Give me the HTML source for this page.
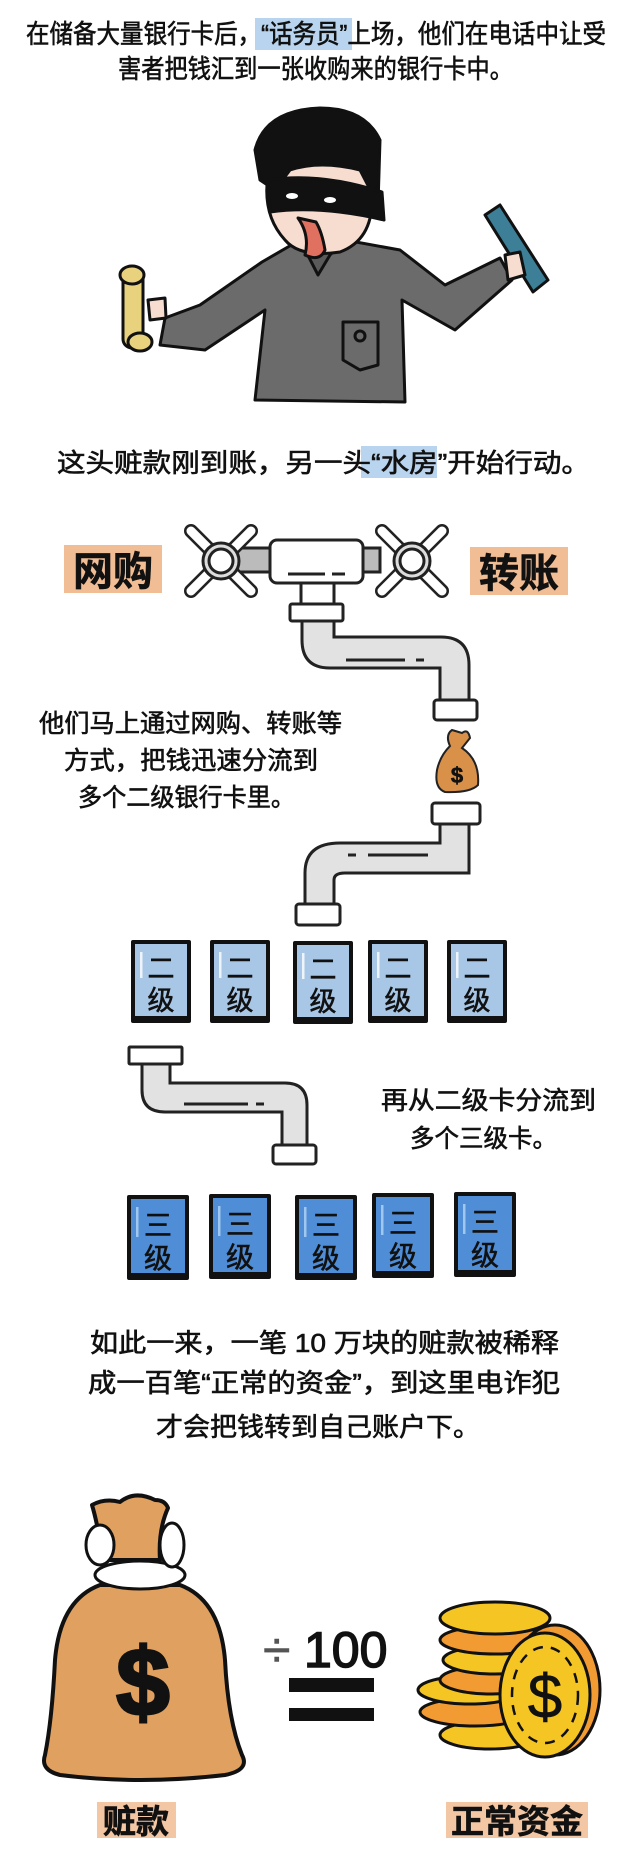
<!DOCTYPE html>
<html><head><meta charset="utf-8"><style>
html,body{margin:0;padding:0;background:#fff;}
svg{display:block;}
text{font-family:"Liberation Sans","Noto Sans CJK SC",sans-serif;fill:#111;stroke:#111;stroke-width:0.6;}
</style></head><body>
<svg width="640" height="1876" viewBox="0 0 640 1876" xmlns="http://www.w3.org/2000/svg">
<defs>
<g id="card2"><rect x="0" y="0" width="60" height="83" fill="#111" rx="2"/><rect x="4" y="4" width="52" height="72" fill="#a8c7e6"/><rect x="9" y="12" width="2.5" height="26" fill="#fff" opacity="0.8"/><text x="30" y="38" font-size="27" text-anchor="middle">二</text><text x="30" y="70" font-size="27" text-anchor="middle">级</text></g>
<g id="card3"><rect x="0" y="0" width="62" height="85" fill="#111" rx="2"/><rect x="4" y="4" width="54" height="74" fill="#4f8ed6"/><rect x="9" y="12" width="2.5" height="30" fill="#a9cdf2" opacity="0.9"/><text x="31" y="40" font-size="28" text-anchor="middle">三</text><text x="31" y="73" font-size="28" text-anchor="middle">级</text></g>
<g id="cross"><g stroke="#222" stroke-width="14" stroke-linecap="round"><line x1="-30" y1="-30" x2="30" y2="30"/><line x1="30" y1="-30" x2="-30" y2="30"/></g><g stroke="#fff" stroke-width="9" stroke-linecap="round"><line x1="-30" y1="-30" x2="30" y2="30"/><line x1="30" y1="-30" x2="-30" y2="30"/></g><circle r="18" fill="#ddd" stroke="#222" stroke-width="3"/><circle r="12" fill="#fff" stroke="#222" stroke-width="3"/></g>
</defs>

<!-- top text -->
<rect x="255" y="18" width="97" height="32" fill="#b8d4ee"/>
<text x="26" y="43" font-size="26" textLength="580" lengthAdjust="spacingAndGlyphs">在储备大量银行卡后，“话务员”上场，他们在电话中让受</text>
<text x="118" y="78" font-size="26" textLength="395" lengthAdjust="spacingAndGlyphs">害者把钱汇到一张收购来的银行卡中。</text>

<!-- robber -->
<g stroke="#111" stroke-width="3" stroke-linejoin="round">
<path d="M262 262 L200 305 L165 318 L160 345 L205 350 L265 310 L255 400 L405 402 L402 300 L455 330 L512 280 L500 258 L445 285 L400 250 L345 240 L300 240 Z" fill="#6b6b6b"/>
<path d="M300 240 L318 275 L330 255 L345 240 Z" fill="#5a5a5a"/>
<path d="M343 360 L343 322 L378 322 L378 365 L360 370 Z" fill="#6b6b6b"/>
<circle cx="360" cy="336" r="5" fill="#6b6b6b"/>
<rect x="123" y="268" width="20" height="80" rx="9" fill="#e9d27e"/>
<ellipse cx="132" cy="275" rx="12" ry="9" fill="#e9d27e"/>
<ellipse cx="140" cy="342" rx="12" ry="9" fill="#e9d27e"/>
<path d="M148 300 L165 298 L166 318 L150 320 Z" fill="#f7dcd0"/>
<path d="M485 215 L500 205 L548 280 L533 292 Z" fill="#3c7f96"/>
<path d="M505 255 L520 252 L525 275 L508 280 Z" fill="#f7dcd0"/>
<path d="M268 175 Q262 150 290 135 Q330 118 360 140 Q380 160 372 200 Q372 240 340 252 Q300 258 285 240 Q262 215 268 175 Z" fill="#f7dcd0"/>
<path d="M255 150 Q265 110 320 108 Q365 108 380 140 L378 205 L360 170 Q320 160 290 170 L275 190 L260 180 Z" fill="#111"/>
<path d="M268 180 Q320 172 382 192 L384 220 Q320 205 270 212 Z" fill="#111"/>
<path d="M298 218 Q310 235 305 255 Q320 262 325 250 Q322 232 316 222 Z" fill="#e0705f"/>
</g>
<ellipse cx="292" cy="196" rx="6" ry="3" fill="#fff"/><ellipse cx="330" cy="200" rx="6" ry="3" fill="#fff"/>

<!-- line 3 -->
<rect x="361" y="446" width="76" height="32" fill="#b8d4ee"/>
<text x="57" y="472" font-size="26" textLength="533" lengthAdjust="spacingAndGlyphs">这头赃款刚到账，另一头“水房”开始行动。</text>

<!-- faucet row -->
<rect x="64" y="545" width="98" height="48" fill="#f1bd95"/>
<text x="113" y="585" font-size="40" font-weight="bold" text-anchor="middle">网购</text>
<rect x="470" y="547" width="98" height="48" fill="#f1bd95"/>
<text x="519" y="587" font-size="40" font-weight="bold" text-anchor="middle">转账</text>
<rect x="230" y="548" width="150" height="24" fill="#bbb" stroke="#222" stroke-width="3"/>
<use href="#cross" x="221" y="561"/>
<use href="#cross" x="412" y="561"/>
<rect x="270" y="540" width="93" height="43" rx="7" fill="#fff" stroke="#222" stroke-width="3"/>
<line x1="288" y1="574" x2="325" y2="574" stroke="#222" stroke-width="3"/><line x1="332" y1="574" x2="345" y2="574" stroke="#222" stroke-width="3"/>
<rect x="301" y="583" width="33" height="22" fill="#fff" stroke="#222" stroke-width="3"/>

<g fill="#e2e2e2" stroke="#222" stroke-width="3">
<path d="M302 620 L302 640 Q302 668 330 668 L440 668 L440 702 L469 702 L469 665 Q469 637 441 637 L334 637 L334 620 Z"/>
<path d="M440 822 L440 843 L340 843 Q305 843 305 873 L305 906 L334 906 L334 880 Q334 873 345 873 L469 873 L469 822 Z"/>
<path d="M142 1062 L142 1090 Q142 1112 165 1112 L282 1112 L282 1147 L307 1147 L307 1105 Q307 1083 285 1083 L170 1083 L170 1062 Z"/>
</g>
<g fill="#fff" stroke="#222" stroke-width="3">
<rect x="290" y="604" width="53" height="17" rx="2"/>
<rect x="434" y="700" width="43" height="20" rx="3"/>
<rect x="432" y="803" width="48" height="21" rx="3"/>
<rect x="296" y="904" width="44" height="21" rx="3"/>
<rect x="129" y="1047" width="53" height="17" rx="1"/>
<rect x="273" y="1145" width="43" height="19" rx="3"/>
</g>
<g stroke="#222" stroke-width="3"><line x1="346" y1="660" x2="405" y2="660"/><line x1="416" y1="660" x2="424" y2="660"/><line x1="348" y1="855" x2="356" y2="855"/><line x1="368" y1="855" x2="428" y2="855"/><line x1="184" y1="1104" x2="248" y2="1104"/><line x1="256" y1="1104" x2="264" y2="1104"/></g>

<!-- small bag -->
<path d="M450 746 Q445 735 452 730 L462 733 Q468 728 470 738 L462 748 Q480 760 478 785 Q470 793 445 792 Q434 788 437 770 Q440 756 450 746 Z" fill="#d9914a" stroke="#222" stroke-width="2"/>
<text x="457" y="783" font-size="22" font-weight="bold" text-anchor="middle">$</text>

<text x="39" y="732" font-size="25" textLength="303" lengthAdjust="spacingAndGlyphs">他们马上通过网购、转账等</text>
<text x="64" y="769" font-size="25" textLength="254" lengthAdjust="spacingAndGlyphs">方式，把钱迅速分流到</text>
<text x="78" y="806" font-size="25" textLength="217" lengthAdjust="spacingAndGlyphs">多个二级银行卡里。</text>

<use href="#card2" x="131" y="940"/>
<use href="#card2" x="210" y="940"/>
<use href="#card2" x="293" y="941"/>
<use href="#card2" x="368" y="940"/>
<use href="#card2" x="447" y="940"/>

<text x="381" y="1109" font-size="25" textLength="215" lengthAdjust="spacingAndGlyphs">再从二级卡分流到</text>
<text x="410" y="1147" font-size="25" textLength="147" lengthAdjust="spacingAndGlyphs">多个三级卡。</text>

<use href="#card3" x="127" y="1195"/>
<use href="#card3" x="209" y="1194"/>
<use href="#card3" x="295" y="1195"/>
<use href="#card3" x="372" y="1193"/>
<use href="#card3" x="454" y="1192"/>

<text x="90" y="1352" font-size="26" textLength="469" lengthAdjust="spacingAndGlyphs">如此一来，一笔 10 万块的赃款被稀释</text>
<text x="88" y="1392" font-size="26" textLength="472" lengthAdjust="spacingAndGlyphs">成一百笔“正常的资金”，到这里电诈犯</text>
<text x="156" y="1436" font-size="26" textLength="324" lengthAdjust="spacingAndGlyphs">才会把钱转到自己账户下。</text>

<!-- big bag -->
<g stroke="#111" stroke-width="4" stroke-linejoin="round">
<path d="M103 1560 Q98 1525 92 1505 Q105 1498 120 1502 Q135 1490 155 1500 Q165 1500 168 1508 Q158 1530 160 1560 Z" fill="#e0a060"/>
<path d="M100 1585 Q60 1600 55 1660 Q52 1720 45 1755 Q40 1770 60 1775 Q140 1785 225 1775 Q250 1770 242 1755 Q228 1720 225 1660 Q220 1600 180 1585 Z" fill="#e0a060"/>
<ellipse cx="140" cy="1575" rx="45" ry="14" fill="#fff" stroke-width="3"/>
<ellipse cx="100" cy="1545" rx="14" ry="20" fill="#fff" stroke-width="3"/>
<ellipse cx="172" cy="1545" rx="12" ry="22" fill="#fff" stroke-width="3"/>
</g>
<text x="143" y="1715" font-size="96" font-weight="bold" text-anchor="middle" style="stroke-width:3">$</text>

<text x="263" y="1667" font-size="50" style="fill:#555;stroke:#555">÷</text>
<text x="304" y="1667" font-size="50" style="stroke-width:1.5">100</text>
<rect x="289" y="1678" width="85" height="14" fill="#111"/>
<rect x="289" y="1708" width="85" height="13" fill="#111"/>

<!-- coins -->
<g stroke="#111" stroke-width="3">
<ellipse cx="490" cy="1735" rx="50" ry="14" fill="#f5c524"/>
<ellipse cx="475" cy="1712" rx="55" ry="14" fill="#f39b33"/>
<ellipse cx="470" cy="1690" rx="52" ry="14" fill="#f5c524"/>
<ellipse cx="492" cy="1680" rx="52" ry="14" fill="#f39b33"/>
<ellipse cx="495" cy="1660" rx="52" ry="14" fill="#f5c524"/>
<ellipse cx="495" cy="1640" rx="55" ry="14" fill="#f39b33"/>
<ellipse cx="495" cy="1618" rx="55" ry="16" fill="#f5c524"/>
<ellipse cx="555" cy="1690" rx="45" ry="65" fill="#f39b33"/>
<ellipse cx="545" cy="1695" rx="45" ry="62" fill="#f5c524"/>
<ellipse cx="545" cy="1695" rx="33" ry="48" fill="none" stroke-dasharray="10 8" stroke-width="2.5"/>
</g>
<text x="545" y="1718" font-size="62" text-anchor="middle">$</text>

<rect x="97" y="1802" width="79" height="36" fill="#f3c6a4"/>
<text x="136" y="1833" font-size="33" font-weight="bold" text-anchor="middle">赃款</text>
<rect x="446" y="1802" width="142" height="36" fill="#f3c6a4"/>
<text x="517" y="1833" font-size="33" font-weight="bold" text-anchor="middle">正常资金</text>
</svg>
</body></html>
